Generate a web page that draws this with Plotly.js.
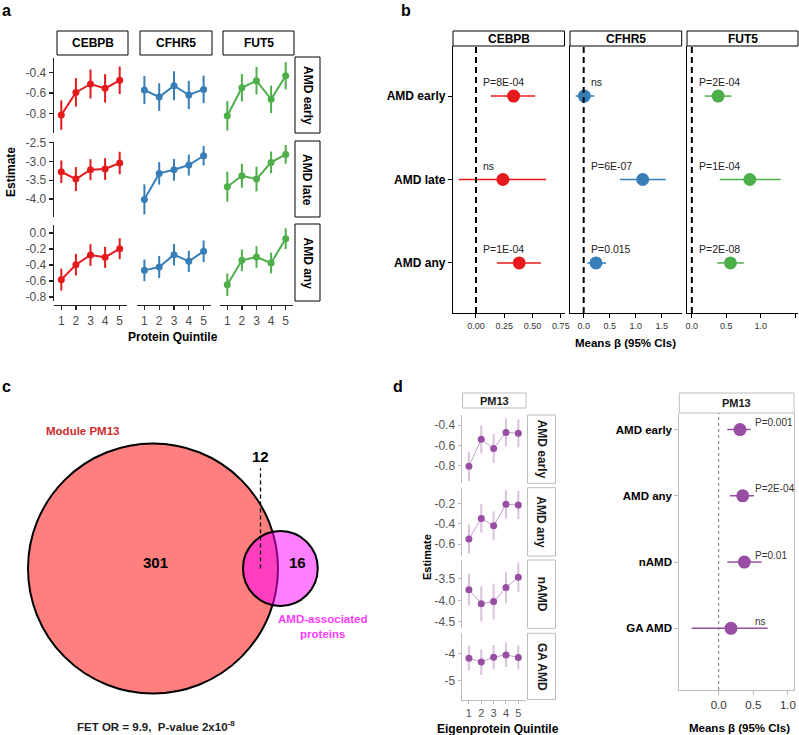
<!DOCTYPE html>
<html><head><meta charset="utf-8">
<script src="https://cdn.plot.ly/plotly-3.0.1.min.js"></script>
<style>html,body{margin:0;padding:0;background:#fff}#chart{width:799px;height:735px}</style>
</head><body><div id="chart"></div>
<script>
// ================= DATA =================
// Panel a : estimates by protein quintile
const quintiles = [1, 2, 3, 4, 5];
const proteinsA = ['CEBPB', 'CFHR5', 'FUT5'];
const outcomesA = ['AMD early', 'AMD late', 'AMD any'];

const CEBPB_early = [-0.813, -0.594, -0.513, -0.555, -0.477];
const CEBPB_early_err = [0.142, 0.137, 0.140, 0.137, 0.133];
const CEBPB_late = [-3.273, -3.468, -3.219, -3.200, -3.040];
const CEBPB_late_err = [0.30, 0.32, 0.28, 0.29, 0.30];
const CEBPB_any = [-0.583, -0.396, -0.275, -0.304, -0.196];
const CEBPB_any_err = [0.137, 0.135, 0.135, 0.132, 0.131];

const CFHR5_early = [-0.571, -0.639, -0.529, -0.619, -0.565];
const CFHR5_early_err = [0.135, 0.133, 0.140, 0.136, 0.133];
const CFHR5_late = [-4.010, -3.317, -3.220, -3.095, -2.846];
const CFHR5_late_err = [0.40, 0.30, 0.29, 0.28, 0.26];
const CFHR5_any = [-0.467, -0.425, -0.271, -0.354, -0.229];
const CFHR5_any_err = [0.135, 0.138, 0.135, 0.133, 0.135];

const FUT5_early = [-0.820, -0.549, -0.481, -0.661, -0.433];
const FUT5_early_err = [0.142, 0.133, 0.133, 0.133, 0.131];
const FUT5_late = [-3.672, -3.379, -3.468, -3.024, -2.811];
const FUT5_late_err = [0.40, 0.32, 0.33, 0.29, 0.25];
const FUT5_any = [-0.646, -0.342, -0.300, -0.375, -0.071];
const FUT5_any_err = [0.14, 0.135, 0.135, 0.13, 0.13];

const ticksA_early = [-0.8, -0.6, -0.4];
const ticksA_late = [-4.0, -3.5, -3.0, -2.5];
const ticksA_any = [-0.8, -0.6, -0.4, -0.2, 0.0];

// Panel b : forest plot of mean beta (95% CI)
const outcomesB = ['AMD early', 'AMD late', 'AMD any'];
const CEBPB_beta = [0.332, 0.238, 0.382];
const CEBPB_lo = [0.132, -0.153, 0.185];
const CEBPB_hi = [0.523, 0.620, 0.574];
const CEBPB_p = ['P=8E-04', 'ns', 'P=1E-04'];
const CFHR5_beta = [0.012, 1.135, 0.237];
const CFHR5_lo = [-0.154, 0.698, 0.070];
const CFHR5_hi = [0.204, 1.577, 0.430];
const CFHR5_p = ['ns', 'P=6E-07', 'P=0.015'];
const FUT5_beta = [0.382, 0.841, 0.560];
const FUT5_lo = [0.188, 0.406, 0.367];
const FUT5_hi = [0.575, 1.290, 0.754];
const FUT5_p = ['P=2E-04', 'P=1E-04', 'P=2E-08'];
const ticksB_CEBPB = [0, 0.25, 0.5, 0.75];
const ticksB_CFHR5 = [0, 0.5, 1, 1.5];
const ticksB_FUT5 = [0, 0.5, 1, 1.5];

// Panel c : Venn diagram counts
const vennModuleOnly = 301;
const vennOverlap = 12;
const vennAmdOnly = 16;

// Panel d : PM13 eigenprotein
const pm13Outcomes = ['AMD early', 'AMD any', 'nAMD', 'GA AMD'];
const PM13_early = [-0.803, -0.540, -0.628, -0.472, -0.481];
const PM13_early_err = [0.143, 0.137, 0.143, 0.135, 0.135];
const PM13_any = [-0.551, -0.348, -0.420, -0.210, -0.216];
const PM13_any_err = [0.142, 0.138, 0.142, 0.138, 0.138];
const PM13_nAMD = [-3.750, -4.078, -4.030, -3.700, -3.460];
const PM13_nAMD_err = [0.37, 0.41, 0.42, 0.37, 0.34];
const PM13_GA = [-4.159, -4.305, -4.122, -4.037, -4.134];
const PM13_GA_err = [0.46, 0.48, 0.45, 0.45, 0.45];
const ticksD_early = [-0.8, -0.6, -0.4];
const ticksD_any = [-0.6, -0.4, -0.2];
const ticksD_nAMD = [-4.5, -4.0, -3.5];
const ticksD_GA = [-5, -4];

const PM13_beta = [0.307, 0.346, 0.370, 0.177];
const PM13_lo = [0.124, 0.163, 0.124, -0.390];
const PM13_hi = [0.461, 0.509, 0.620, 0.707];
const PM13_p = ['P=0.001', 'P=2E-04', 'P=0.01', 'ns'];
const ticksD_beta = [0, 0.5, 1];

// ================= LAYOUT HELPERS =================
const W = 799, H = 735;
const px = x => x / W;
const py = y => 1 - y / H;
const FONT = 'Liberation Sans, Arial, Helvetica, sans-serif';
const colA = {CEBPB: '#E41A1C', CFHR5: '#377EB8', FUT5: '#4DAF4A'};
const PURPLE = '#984EA3';

const traces = [];
const layout = {
  width: W, height: H, margin: {l: 0, r: 0, t: 0, b: 0}, showlegend: false,
  paper_bgcolor: '#fff', plot_bgcolor: 'rgba(0,0,0,0)',
  font: {family: FONT, color: '#000'},
  annotations: [], shapes: []
};
const axName = (i) => (i === 1 ? '' : String(i));
function ann(text, x, y, o) {
  layout.annotations.push(Object.assign({text, x: px(x), y: py(y), xref: 'paper', yref: 'paper',
    showarrow: false, xanchor: 'center', yanchor: 'middle',
    font: {family: FONT, size: 12, color: '#000'}}, o || {}));
}
function rect(x0, x1, y0, y1, col) {
  layout.shapes.push({type: 'rect', xref: 'paper', yref: 'paper', x0: px(x0), x1: px(x1), y0: py(y1), y1: py(y0),
    line: {color: col, width: 1}, fillcolor: '#fff', layer: 'below'});
}
const fmt = (d) => (v) => v.toFixed(d);

// ================= PANEL A =================
const seriesA = {
  CEBPB: [[CEBPB_early, CEBPB_early_err], [CEBPB_late, CEBPB_late_err], [CEBPB_any, CEBPB_any_err]],
  CFHR5: [[CFHR5_early, CFHR5_early_err], [CFHR5_late, CFHR5_late_err], [CFHR5_any, CFHR5_any_err]],
  FUT5: [[FUT5_early, FUT5_early_err], [FUT5_late, FUT5_late_err], [FUT5_any, FUT5_any_err]]
};
const colsA = [[54, 127], [137, 211], [220, 293]];
const rowsA = [[58, 133], [142, 217], [225, 301]];
const yRangesA = [[-0.986, -0.262], [-4.48, -2.48], [-0.85, 0.10]];
const yTicksA = [ticksA_early, ticksA_late, ticksA_any];

for (let r = 0; r < 3; r++) {
  for (let c = 0; c < 3; c++) {
    const i = r * 3 + c + 1, n = axName(i);
    const prot = proteinsA[c];
    const [vals, errs] = seriesA[prot][r];
    traces.push({type: 'scatter', mode: 'lines+markers', x: quintiles, y: vals, xaxis: 'x' + n, yaxis: 'y' + n,
      line: {color: colA[prot], width: 2}, marker: {color: colA[prot], size: 7},
      error_y: {type: 'data', array: errs, visible: true, thickness: 2, width: 0, color: colA[prot]}, hoverinfo: 'skip'});
    const xa = {domain: [px(colsA[c][0]), px(colsA[c][1])], range: [0.5, 5.5], anchor: 'y' + n,
      showgrid: false, zeroline: false, fixedrange: true};
    if (r === 2) Object.assign(xa, {anchor: 'free', position: py(305), showline: true, linecolor: '#222', linewidth: 1.3,
      ticks: 'outside', ticklen: 4, tickcolor: '#222', tickwidth: 1.2, tickvals: quintiles, ticktext: quintiles.map(String),
      tickfont: {size: 12, color: '#4d4d4d'}});
    else Object.assign(xa, {showline: false, showticklabels: false, ticks: ''});
    const ya = {domain: [py(rowsA[r][1]), py(rowsA[r][0])], range: yRangesA[r], anchor: 'x' + n,
      showgrid: false, zeroline: false, fixedrange: true};
    if (c === 0) Object.assign(ya, {showline: true, linecolor: '#222', linewidth: 1.3, ticks: 'outside', ticklen: 4,
      tickcolor: '#222', tickwidth: 1.2, tickvals: yTicksA[r], ticktext: yTicksA[r].map(fmt(1)),
      tickfont: {size: 12, color: '#4d4d4d'}});
    else Object.assign(ya, {showline: false, showticklabels: false, ticks: ''});
    layout['xaxis' + n] = xa; layout['yaxis' + n] = ya;
  }
}
// strips
proteinsA.forEach((p, c) => {
  rect(colsA[c][0] + 3, colsA[c][1] + 1, 31, 55, '#000');
  ann('<b>' + p + '</b>', (colsA[c][0] + colsA[c][1]) / 2 + 2, 43, {font: {family: FONT, size: 12, color: '#000'}});
});
outcomesA.forEach((o, r) => {
  rect(295, 320, rowsA[r][0] - 1, rowsA[r][1], '#000');
  ann('<b>' + o + '</b>', 307.5, (rowsA[r][0] + rowsA[r][1]) / 2, {textangle: 90, font: {family: FONT, size: 12, color: '#000'}});
});
ann('<b>Estimate</b>', 11, 172, {textangle: -90, font: {family: FONT, size: 12, color: '#000'}});
ann('<b>Protein Quintile</b>', 173, 337, {font: {family: FONT, size: 12, color: '#000'}});
ann('<b>a</b>', 6, 11, {font: {family: FONT, size: 16, color: '#000'}});

// ================= PANEL B =================
const forest = [
  {prot: 'CEBPB', beta: CEBPB_beta, lo: CEBPB_lo, hi: CEBPB_hi, p: CEBPB_p, ticks: ticksB_CEBPB, d: 2},
  {prot: 'CFHR5', beta: CFHR5_beta, lo: CFHR5_lo, hi: CFHR5_hi, p: CFHR5_p, ticks: ticksB_CFHR5, d: 1},
  {prot: 'FUT5', beta: FUT5_beta, lo: FUT5_lo, hi: FUT5_hi, p: FUT5_p, ticks: ticksB_FUT5, d: 1}
];
const colsB = [[453, 564.5], [570, 681.7], [687, 798]];
const xRangesB = [[-0.203, 0.782], [-0.263, 1.885], [-0.07, 1.54]];
const rowB = [46, 313];
forest.forEach((f, k) => {
  const n = String(10 + k);
  traces.push({type: 'scatter', mode: 'markers', x: f.beta, y: outcomesB, xaxis: 'x' + n, yaxis: 'y' + n,
    marker: {color: colA[f.prot], size: 13},
    error_x: {type: 'data', symmetric: false, array: f.hi.map((h, j) => h - f.beta[j]),
      arrayminus: f.beta.map((b, j) => b - f.lo[j]), thickness: 1.5, width: 0, color: colA[f.prot]}, hoverinfo: 'skip'});
  layout['xaxis' + n] = {domain: [px(colsB[k][0]), px(colsB[k][1])], range: xRangesB[k], anchor: 'y' + n,
    showgrid: false, zeroline: false, showline: true, linecolor: '#000', linewidth: 1.2, ticks: 'outside', ticklen: 4,
    tickcolor: '#000', tickvals: f.ticks, ticktext: f.ticks.map(fmt(f.d)), tickfont: {size: 9, color: '#333'}, fixedrange: true};
  const ya = {domain: [py(rowB[1]), py(rowB[0])], type: 'category', categoryorder: 'array', categoryarray: outcomesB,
    range: [2.6, -0.6], anchor: 'x' + n, showgrid: false, zeroline: false, showline: true, linecolor: '#000',
    linewidth: 1.2, fixedrange: true};
  if (k === 0) Object.assign(ya, {ticks: 'outside', ticklen: 4, tickcolor: '#000',
    tickfont: {size: 12, color: '#000', weight: 'bold'}});
  else Object.assign(ya, {showticklabels: false, ticks: ''});
  layout['yaxis' + n] = ya;
  layout.shapes.push({type: 'line', xref: 'x' + n, yref: 'y' + n + ' domain', x0: 0, x1: 0, y0: 0, y1: 1,
    line: {color: '#000', width: 2, dash: '6px,4px'}});
  f.p.forEach((t, j) => layout.annotations.push({text: t, xref: 'x' + n, yref: 'y' + n, x: 0, y: j,
    xanchor: 'left', yanchor: 'middle', xshift: 5, yshift: 14, showarrow: false,
    font: {family: FONT, size: 10.5, color: '#222'}}));
  rect(colsB[k][0], colsB[k][1], 31, 46, '#000');
  ann('<b>' + f.prot + '</b>', (colsB[k][0] + colsB[k][1]) / 2, 38.5, {font: {family: FONT, size: 12, color: '#000'}});
});
ann('<b>Means β (95% CIs)</b>', 625, 343, {font: {family: FONT, size: 11.5, color: '#000'}});
ann('<b>b</b>', 406, 11, {font: {family: FONT, size: 16, color: '#000'}});

// ================= PANEL C (Venn) =================
const nModule = vennModuleOnly + vennOverlap;
const nAmd = vennAmdOnly + vennOverlap;
const Rb = Math.sqrt(nModule), Rs = Math.sqrt(nAmd);   // area proportional to count
function lens(d) {
  const a1 = Math.acos((d * d + Rb * Rb - Rs * Rs) / (2 * d * Rb));
  const a2 = Math.acos((d * d + Rs * Rs - Rb * Rb) / (2 * d * Rs));
  const t = Math.sqrt((-d + Rb + Rs) * (d + Rb - Rs) * (d - Rb + Rs) * (d + Rb + Rs));
  return Rb * Rb * a1 + Rs * Rs * a2 - 0.5 * t;
}
let lo = Rb - Rs + 1e-6, hi = Rb + Rs - 1e-6;
const target = Math.PI * vennOverlap;
for (let it = 0; it < 80; it++) { const m = (lo + hi) / 2; if (lens(m) > target) lo = m; else hi = m; }
const dist = (lo + hi) / 2;
const S = 125 / Rb;               // px per unit
const cx = 153, cy = 568.5;        // big circle centre in page px
layout.xaxis13 = {domain: [0, px(400)], range: [-cx / S, (400 - cx) / S], anchor: 'y13', visible: false, fixedrange: true};
layout.yaxis13 = {domain: [py(735), py(380)], range: [-(735 - cy) / S, (cy - 380) / S], anchor: 'x13', visible: false, fixedrange: true};
traces.push({type: 'scatter', mode: 'markers', x: [0, dist], y: [0, 0], xaxis: 'x13', yaxis: 'y13',
  marker: {size: 1, opacity: 0}, hoverinfo: 'skip'});
layout.shapes.push({type: 'circle', xref: 'x13', yref: 'y13', x0: -Rb, x1: Rb, y0: -Rb, y1: Rb,
  fillcolor: 'rgba(255,0,0,0.5)', line: {color: '#000', width: 2}, layer: 'above'});
layout.shapes.push({type: 'circle', xref: 'x13', yref: 'y13', x0: dist - Rs, x1: dist + Rs, y0: -Rs, y1: Rs,
  fillcolor: 'rgba(255,0,255,0.5)', line: {color: '#000', width: 2}, layer: 'above'});
const lensX = (dist - Rs + Rb) / 2;
layout.shapes.push({type: 'line', xref: 'x13', yref: 'y13', x0: lensX, x1: lensX, y0: 0, y1: 14.2,
  line: {color: '#000', width: 1.3, dash: '4px,3px'}, layer: 'above'});
const cAnn = (t, x, y, o) => layout.annotations.push(Object.assign({text: t, x, y, xref: 'x13', yref: 'y13',
  showarrow: false, font: {family: FONT, size: 15, color: '#000'}}, o || {}));
cAnn('<b>' + vennModuleOnly + '</b>', 0.4, 0.9);
cAnn('<b>' + vennAmdOnly + '</b>', (Rb + dist + Rs) / 2, 0.8);
cAnn('<b>' + vennOverlap + '</b>', lensX, 14.3, {yanchor: 'bottom'});
ann('<b>Module PM13</b>', 82.5, 431, {font: {family: FONT, size: 11.5, color: '#cc2b2b'}});
ann('<b>AMD-associated<br>proteins</b>', 322.5, 626, {font: {family: FONT, size: 11.5, color: '#ff3cff'}});
ann('<b>FET OR = 9.9,  P-value 2x10<sup>-8</sup></b>', 156, 726, {font: {family: FONT, size: 11.5, color: '#222'}});
ann('<b>c</b>', 6, 386, {font: {family: FONT, size: 16, color: '#000'}});
ann('<b>d</b>', 398, 386, {font: {family: FONT, size: 16, color: '#000'}});

// ================= PANEL D left =================
const seriesD = [[PM13_early, PM13_early_err], [PM13_any, PM13_any_err], [PM13_nAMD, PM13_nAMD_err], [PM13_GA, PM13_GA_err]];
const rowsD = [[415, 483.3], [487.7, 556], [560, 628.3], [633.3, 699.5]];
const yRangesD = [[-0.969, -0.302], [-0.718, -0.046], [-4.656, -3.055], [-5.70, -3.232]];
const yTicksD = [ticksD_early, ticksD_any, ticksD_nAMD, ticksD_GA];
const yTickDec = [1, 1, 1, 0];
const colD = [461.5, 526];
const GREY = '#bdbdbd';
seriesD.forEach(([vals, errs], r) => {
  const n = String(14 + r);
  traces.push({type: 'scatter', mode: 'lines', x: quintiles, y: vals, xaxis: 'x' + n, yaxis: 'y' + n,
    line: {color: 'rgba(152,78,163,0.55)', width: 1}, hoverinfo: 'skip'});
  traces.push({type: 'scatter', mode: 'markers', x: quintiles, y: vals, xaxis: 'x' + n, yaxis: 'y' + n,
    marker: {color: PURPLE, size: 7},
    error_y: {type: 'data', array: errs, visible: true, thickness: 2, width: 0, color: 'rgba(152,78,163,0.35)'}, hoverinfo: 'skip'});
  const xa = {domain: [px(colD[0]), px(colD[1])], range: [0.4, 5.62], anchor: 'y' + n, showgrid: false,
    zeroline: false, fixedrange: true};
  if (r === 3) Object.assign(xa, {showline: true, linecolor: GREY, linewidth: 1, ticks: 'outside', ticklen: 3,
    tickcolor: GREY, tickvals: quintiles, ticktext: quintiles.map(String), tickfont: {size: 11, color: '#555'}});
  else Object.assign(xa, {showline: false, showticklabels: false, ticks: ''});
  layout['xaxis' + n] = xa;
  layout['yaxis' + n] = {domain: [py(rowsD[r][1]), py(rowsD[r][0])], range: yRangesD[r], anchor: 'x' + n,
    showgrid: false, zeroline: false, showline: true, linecolor: GREY, linewidth: 1, ticks: 'outside', ticklen: 3,
    tickcolor: GREY, tickvals: yTicksD[r], ticktext: yTicksD[r].map(fmt(yTickDec[r])),
    tickfont: {size: 12, color: '#555'}, fixedrange: true};
  rect(527.5, 555.5, rowsD[r][0], rowsD[r][1], GREY);
  ann('<b>' + pm13Outcomes[r] + '</b>', 541.5, (rowsD[r][0] + rowsD[r][1]) / 2,
    {textangle: 90, font: {family: FONT, size: 12, color: '#1a1a1a'}});
});
rect(462.5, 526, 393, 408, GREY);
ann('<b>PM13</b>', 494, 400.5, {font: {family: FONT, size: 11, color: '#1a1a1a'}});
ann('<b>Estimate</b>', 427, 557, {textangle: -90, font: {family: FONT, size: 11, color: '#000'}});
ann('<b>Eigenprotein Quintile</b>', 498, 728.5, {font: {family: FONT, size: 12, color: '#000'}});

// ================= PANEL D right =================
traces.push({type: 'scatter', mode: 'markers', x: PM13_beta, y: pm13Outcomes, xaxis: 'x18', yaxis: 'y18',
  marker: {color: PURPLE, size: 13},
  error_x: {type: 'data', symmetric: false, array: PM13_hi.map((h, j) => h - PM13_beta[j]),
    arrayminus: PM13_beta.map((b, j) => b - PM13_lo[j]), thickness: 1.5, width: 0, color: PURPLE}, hoverinfo: 'skip'});
layout.xaxis18 = {domain: [px(679.3), px(794)], range: [-0.569, 1.087], anchor: 'y18', showgrid: false, zeroline: false,
  showline: true, linecolor: GREY, linewidth: 1, ticks: 'outside', ticklen: 4, tickcolor: GREY,
  tickvals: ticksD_beta, ticktext: ticksD_beta.map(fmt(1)), tickfont: {size: 11.5, color: '#333'}, fixedrange: true};
layout.yaxis18 = {domain: [py(690), py(413)], type: 'category', categoryorder: 'array', categoryarray: pm13Outcomes,
  range: [3.93, -0.25], anchor: 'x18', showgrid: false, zeroline: false, showline: true, mirror: true,
  linecolor: GREY, linewidth: 1, ticks: 'outside', ticklen: 4, tickcolor: GREY,
  tickfont: {size: 11.5, color: '#000', weight: 'bold'}, fixedrange: true};
layout.shapes.push({type: 'line', xref: 'x18', yref: 'y18 domain', x0: 0, x1: 0, y0: 0, y1: 1,
  line: {color: '#777', width: 1, dash: 'dot'}});
PM13_p.forEach((t, j) => layout.annotations.push({text: t, xref: 'x18', yref: 'y18', x: 0.49, y: j,
  xanchor: 'left', yanchor: 'middle', yshift: 7, showarrow: false, font: {family: FONT, size: 10, color: '#333'}}));
rect(679.3, 794, 393, 413, GREY);
ann('<b>PM13</b>', 736.6, 403, {font: {family: FONT, size: 11, color: '#1a1a1a'}});
ann('<b>Means β (95% CIs)</b>', 739, 728, {font: {family: FONT, size: 11.5, color: '#000'}});

Plotly.newPlot('chart', traces, layout, {staticPlot: true, displayModeBar: false});
</script>
</body></html>
